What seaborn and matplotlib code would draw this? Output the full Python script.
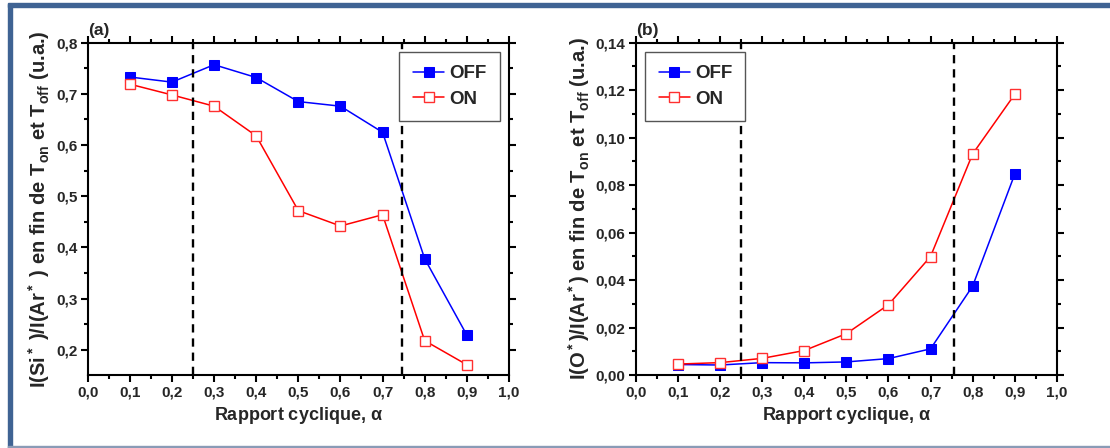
import numpy as np
import pandas as pd
import matplotlib
matplotlib.use('Agg')
import matplotlib.pyplot as plt
from matplotlib.ticker import MultipleLocator, FuncFormatter
from matplotlib.patches import Rectangle
import seaborn as sns

# data
alpha = [0.1, 0.2, 0.3, 0.4, 0.5, 0.6, 0.7, 0.8, 0.9]
si_off = [0.733, 0.723, 0.757, 0.732, 0.685, 0.676, 0.625, 0.378, 0.229]
si_on = [0.719, 0.698, 0.676, 0.618, 0.472, 0.442, 0.464, 0.218, 0.171]
o_off = [0.0044, 0.0042, 0.0052, 0.0051, 0.0055, 0.0069, 0.0110, 0.0374, 0.0845]
o_on = [0.0046, 0.0052, 0.0070, 0.0103, 0.0174, 0.0296, 0.0499, 0.0931, 0.1182]

sns.set_style('ticks')
plt.rcParams['font.family'] = ['Liberation Sans', 'DejaVu Sans']
plt.rcParams['font.weight'] = 'bold'
plt.rcParams['mathtext.fontset'] = 'custom'
plt.rcParams['mathtext.rm'] = 'Liberation Sans:bold'
plt.rcParams['mathtext.it'] = 'Liberation Sans:bold'
plt.rcParams['mathtext.bf'] = 'Liberation Sans:bold'
plt.rcParams['mathtext.default'] = 'rm'

df_si = pd.DataFrame({'alpha': alpha, 'OFF': si_off, 'ON': si_on})
df_o = pd.DataFrame({'alpha': alpha, 'OFF': o_off, 'ON': o_on})

comma = FuncFormatter(lambda v, p: ('%.2f' % v).replace('.', ','))
comma1 = FuncFormatter(lambda v, p: ('%.1f' % v).replace('.', ','))

fig = plt.figure(figsize=(11.1, 4.48), dpi=100)
ax1 = fig.add_axes([0.079, 0.163, 0.3795, 0.7417])
ax2 = fig.add_axes([0.573, 0.163, 0.379, 0.7417])


def draw_panel(ax, df, ylim, ymaj, ymin, yfmt, vlines, ylabel, tag, legloc):
    sns.lineplot(data=df, x='alpha', y='OFF', ax=ax, color='#0000ff', marker='s',
                 markersize=6.5, markeredgecolor='#0000ff', linewidth=1.1, label='OFF')
    sns.lineplot(data=df, x='alpha', y='ON', ax=ax, color='#ff0000', marker='s',
                 markersize=6.5, markerfacecolor='white', markeredgecolor='#ff3030',
                 markeredgewidth=1.0, linewidth=1.1, label='ON')
    for v in vlines:
        ax.axvline(v, color='black', linestyle=(0, (3.5, 2.5)), linewidth=1.7)
    ax.set_xlim(0, 1)
    ax.set_ylim(*ylim)
    ax.xaxis.set_major_locator(MultipleLocator(0.1))
    ax.xaxis.set_minor_locator(MultipleLocator(0.05))
    ax.yaxis.set_major_locator(MultipleLocator(ymaj))
    ax.yaxis.set_minor_locator(MultipleLocator(ymin))
    ax.xaxis.set_major_formatter(comma1)
    ax.yaxis.set_major_formatter(yfmt)
    ax.tick_params(which='both', direction='out', top=True, right=True,
                   labelsize=11, width=1.5, color='black', pad=2.5)
    ax.tick_params(which='major', length=5)
    ax.tick_params(which='minor', length=3)
    for s in ax.spines.values():
        s.set_visible(True)
        s.set_linewidth(1.5)
        s.set_color('black')
    ax.set_xlabel('Rapport cyclique, $\\alpha$', fontsize=13, fontweight='bold', labelpad=4)
    ax.set_ylabel(ylabel, fontsize=14.5, fontweight='bold', labelpad=3)
    ax.text(0.0, 1.015, tag, transform=ax.transAxes, fontsize=12.5, fontweight='bold',
            ha='left', va='bottom')
    leg = ax.legend(loc=legloc, prop={'size': 13.5, 'weight': 'bold'}, frameon=True,
                    fancybox=False, handlelength=1.7, borderpad=0.7, labelspacing=0.45,
                    borderaxespad=0.5, handletextpad=0.25)
    leg.get_frame().set_edgecolor('#555555')
    leg.get_frame().set_linewidth(1.0)
    leg.get_frame().set_alpha(1)


draw_panel(ax1, df_si, (0.151, 0.8), 0.1, 0.05, comma1, [0.25, 0.745],
           'I(Si$^*$ )/I(Ar$^*$ ) en fin de T$_{on}$ et T$_{off}$ (u.a.)', '(a)', 'upper right')
draw_panel(ax2, df_o, (0.0, 0.14), 0.02, 0.01, comma, [0.25, 0.755],
           'I(O$^*$)/I(Ar$^*$) en fin de T$_{on}$ et T$_{off}$ (u.a.)', '(b)', 'upper left')

# blue frame around the figure
fig.patches.append(Rectangle((8 / 1110, 0), 4 / 1110, 444 / 448, transform=fig.transFigure,
                             color='#3f6393', zorder=5))
fig.patches.append(Rectangle((8 / 1110, 441 / 448), 1102 / 1110, 3.5 / 448, transform=fig.transFigure,
                             color='#3f6393', zorder=5))
fig.patches.append(Rectangle((8 / 1110, 0), 1102 / 1110, 2.5 / 448, transform=fig.transFigure,
                             color='#8a9bb6', zorder=5))

fig.savefig('out.png', dpi=100)
